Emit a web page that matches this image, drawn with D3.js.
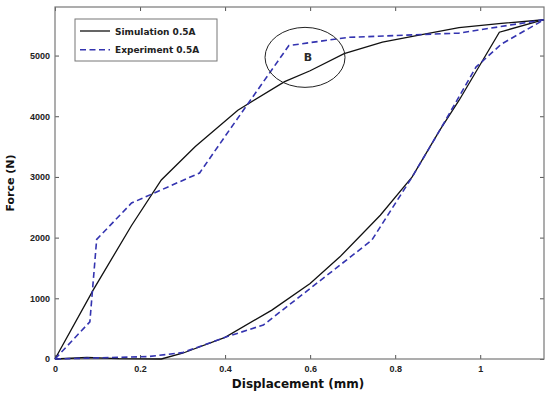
<!DOCTYPE html>
<html>
<head>
<meta charset="utf-8">
<script src="https://cdn.jsdelivr.net/npm/d3@7"></script>
<style>
  body { margin: 0; background: #fff; }
  svg { display: block; font-family: "DejaVu Sans", sans-serif; }
</style>
</head>
<body>
<div id="main-container"></div>
<script>
const WIDTH = 550
const HEIGHT = 394
const MARGIN = { top: 7, right: 6, bottom: 35, left: 55 }
const SIM_COLOR = '#111'
const EXP_COLOR = '#3434b0'

// Force-displacement data (mm, N)
const SIM_LOADING = [
  [0, 0], [0.09, 1140], [0.18, 2200], [0.25, 2950], [0.33, 3500], [0.43, 4100],
  [0.54, 4570], [0.6, 4750], [0.68, 5030], [0.77, 5220], [0.85, 5330],
  [0.95, 5460], [1.05, 5530], [1.15, 5590]
]
const SIM_UNLOADING = [
  [0, 0], [0.075, 25], [0.15, 5], [0.25, 0], [0.3, 95], [0.4, 357], [0.51, 806],
  [0.6, 1245], [0.67, 1683], [0.765, 2368], [0.84, 3000], [0.905, 3770],
  [0.95, 4260], [1.045, 5385], [1.15, 5590]
]
const EXP_LOADING = [
  [0, 0], [0.082, 613], [0.098, 1970], [0.18, 2570], [0.34, 3065], [0.41, 3770],
  [0.55, 5165], [0.69, 5300], [0.95, 5370], [1.15, 5590]
]
const EXP_UNLOADING = [
  [0, 0], [0.22, 40], [0.3, 105], [0.4, 357], [0.49, 560], [0.59, 1107],
  [0.67, 1546], [0.745, 1957], [0.84, 3000], [0.905, 3770], [0.99, 4810],
  [1.05, 5190], [1.15, 5590]
]
const X_TICKS = [0, 0.2, 0.4, 0.6, 0.8, 1]
const Y_TICKS = [0, 1000, 2000, 3000, 4000, 5000]
const LEGEND = ['Simulation 0.5A', 'Experiment 0.5A']

const X_SCALE = d3.scaleLinear().domain([0, 1.15]).range([MARGIN.left, WIDTH - MARGIN.right])
const Y_SCALE = d3.scaleLinear().domain([0, 5800]).range([HEIGHT - MARGIN.bottom, MARGIN.top])

const SVG = d3.select('#main-container').append('svg')
  .attr('width', WIDTH)
  .attr('height', HEIGHT)

// axes with inward ticks, mirrored on top/right
const fmtX = d => d === 0 || d === 1 ? String(d) : d3.format('.1f')(d)
const axisStyle = g => {
  g.select('.domain').remove()
  g.selectAll('line').attr('stroke', '#555')
  g.selectAll('text').attr('fill', '#222').style('font-size', '9px').style('font-weight', 'bold')
}
SVG.append('g')
  .attr('transform', `translate(0, ${HEIGHT - MARGIN.bottom})`)
  .call(d3.axisBottom(X_SCALE).tickValues(X_TICKS).tickFormat(fmtX).tickSizeInner(-4).tickSizeOuter(0).tickPadding(7))
  .call(axisStyle)
SVG.append('g')
  .attr('transform', `translate(0, ${MARGIN.top})`)
  .call(d3.axisTop(X_SCALE).tickValues(X_TICKS).tickFormat('').tickSizeInner(-4).tickSizeOuter(0))
  .call(axisStyle)
SVG.append('g')
  .attr('transform', `translate(${MARGIN.left}, 0)`)
  .call(d3.axisLeft(Y_SCALE).tickValues(Y_TICKS).tickFormat(d3.format('d')).tickSizeInner(-4).tickSizeOuter(0).tickPadding(5))
  .call(axisStyle)
SVG.append('g')
  .attr('transform', `translate(${WIDTH - MARGIN.right}, 0)`)
  .call(d3.axisRight(Y_SCALE).tickValues(Y_TICKS).tickFormat('').tickSizeInner(-4).tickSizeOuter(0))
  .call(axisStyle)

// plot frame
SVG.append('rect')
  .attr('x', MARGIN.left)
  .attr('y', MARGIN.top)
  .attr('width', WIDTH - MARGIN.left - MARGIN.right)
  .attr('height', HEIGHT - MARGIN.top - MARGIN.bottom)
  .attr('fill', 'none')
  .attr('stroke', '#777')
  .attr('stroke-width', 1.2)

const line = d3.line().x(d => X_SCALE(d[0])).y(d => Y_SCALE(d[1]))

const series = [
  { data: SIM_LOADING, color: SIM_COLOR, dash: null, w: 1.3 },
  { data: SIM_UNLOADING, color: SIM_COLOR, dash: null, w: 1.3 },
  { data: EXP_LOADING, color: EXP_COLOR, dash: '6,3.5', w: 1.6 },
  { data: EXP_UNLOADING, color: EXP_COLOR, dash: '6,3.5', w: 1.6 }
]
SVG.selectAll('path.curve')
  .data(series)
  .enter()
  .append('path')
  .attr('class', 'curve')
  .attr('d', d => line(d.data))
  .attr('fill', 'none')
  .attr('stroke', d => d.color)
  .attr('stroke-width', d => d.w)
  .attr('stroke-dasharray', d => d.dash)

// "B" marker ellipse
SVG.append('ellipse')
  .attr('cx', X_SCALE(0.588))
  .attr('cy', Y_SCALE(4970))
  .attr('rx', 40)
  .attr('ry', 30)
  .attr('fill', 'none')
  .attr('stroke', '#222')
  .attr('stroke-width', 1)
SVG.append('text')
  .attr('x', X_SCALE(0.595))
  .attr('y', Y_SCALE(4970) + 4)
  .attr('text-anchor', 'middle')
  .attr('fill', '#2a2a2a')
  .style('font-size', '11px')
  .style('font-weight', 'bold')
  .text('B')

// legend
const LEG = SVG.append('g').attr('transform', 'translate(75, 19)')
LEG.append('rect')
  .attr('width', 142)
  .attr('height', 42)
  .attr('fill', '#fff')
  .attr('stroke', '#777')
  .attr('stroke-width', 1)
LEG.selectAll('line')
  .data(LEGEND)
  .enter()
  .append('line')
  .attr('x1', 5)
  .attr('x2', 35)
  .attr('y1', (_, i) => 12 + i * 18.7)
  .attr('y2', (_, i) => 12 + i * 18.7)
  .attr('stroke', (_, i) => i === 0 ? SIM_COLOR : EXP_COLOR)
  .attr('stroke-width', (_, i) => i === 0 ? 1.3 : 1.6)
  .attr('stroke-dasharray', (_, i) => i === 0 ? null : '6,3.5')
LEG.selectAll('text')
  .data(LEGEND)
  .enter()
  .append('text')
  .attr('x', 40)
  .attr('y', (_, i) => 15.5 + i * 18.7)
  .attr('fill', '#222')
  .style('font-size', '9px')
  .style('font-weight', 'bold')
  .text(d => d)

// axis titles
SVG.append('text')
  .attr('x', 298)
  .attr('y', 388)
  .attr('text-anchor', 'middle')
  .attr('fill', '#111')
  .style('font-size', '12px')
  .style('font-weight', 'bold')
  .text('Displacement (mm)')
SVG.append('text')
  .attr('transform', 'translate(14, 183) rotate(-90)')
  .attr('text-anchor', 'middle')
  .attr('fill', '#111')
  .style('font-size', '11px')
  .style('font-weight', 'bold')
  .text('Force (N)')
</script>
</body>
</html>
